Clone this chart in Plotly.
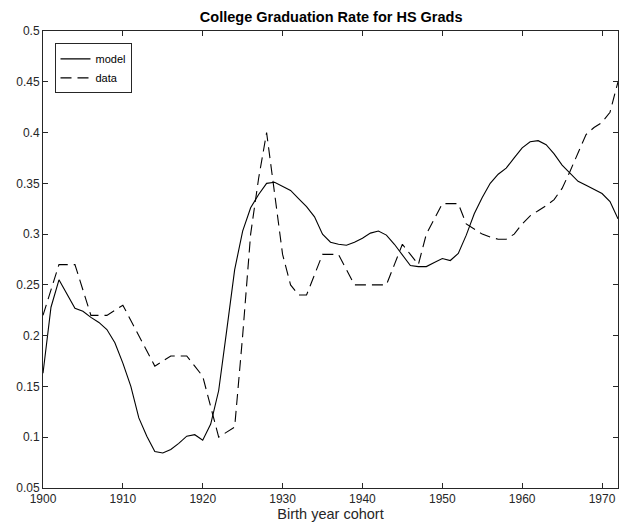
import plotly.graph_objects as go

years = list(range(1900, 1973))

model = [0.163, 0.228, 0.255, 0.241, 0.227, 0.224, 0.218, 0.213, 0.206, 0.193,
         0.173, 0.150, 0.119, 0.101, 0.086, 0.0845, 0.088, 0.094, 0.101, 0.1025,
         0.097, 0.113, 0.146, 0.205, 0.265, 0.303, 0.326, 0.339, 0.350, 0.351,
         0.347, 0.343, 0.335, 0.327, 0.317, 0.300, 0.292, 0.290, 0.289, 0.292,
         0.296, 0.301, 0.303, 0.299, 0.290, 0.279, 0.269, 0.268, 0.268, 0.272,
         0.276, 0.274, 0.281, 0.299, 0.320, 0.336, 0.350, 0.359, 0.365, 0.375,
         0.385, 0.391, 0.392, 0.388, 0.379, 0.368, 0.360, 0.352, 0.348, 0.344,
         0.340, 0.332, 0.315]

data = [0.22, 0.245, 0.27, 0.27, 0.27, 0.245, 0.22, 0.22, 0.22, 0.225,
        0.23, 0.215, 0.20, 0.185, 0.17, 0.175, 0.18, 0.18, 0.18, 0.17,
        0.16, 0.13, 0.10, 0.105, 0.11, 0.20, 0.30, 0.355, 0.40, 0.34,
        0.28, 0.25, 0.24, 0.24, 0.26, 0.28, 0.28, 0.28, 0.265, 0.25,
        0.25, 0.25, 0.25, 0.25, 0.27, 0.29, 0.28, 0.27, 0.30, 0.315,
        0.33, 0.33, 0.33, 0.31, 0.305, 0.30, 0.297, 0.295, 0.295, 0.30,
        0.31, 0.318, 0.323, 0.328, 0.334, 0.345, 0.362, 0.38, 0.398, 0.405,
        0.41, 0.42, 0.45]

x_ticks = [1900, 1910, 1920, 1930, 1940, 1950, 1960, 1970]
x_tick_labels = ["1900", "1910", "1920", "1930", "1940", "1950", "1960", "1970"]
y_ticks = [0.05, 0.1, 0.15, 0.2, 0.25, 0.3, 0.35, 0.4, 0.45, 0.5]
y_tick_labels = ["0.05", "0.1", "0.15", "0.2", "0.25", "0.3", "0.35", "0.4", "0.45", "0.5"]

FONT = "Liberation Sans, Arial, Helvetica, sans-serif"
AX = "#262626"

fig = go.Figure()
fig.add_trace(go.Scatter(x=years, y=model, mode="lines", name="model",
                         line=dict(color="black", width=1.1)))
fig.add_trace(go.Scatter(x=years, y=data, mode="lines", name="data",
                         line=dict(color="black", width=1.1, dash="11px,6px")))

axis_common = dict(showline=True, linecolor=AX, linewidth=1, mirror="ticks",
                   ticks="inside", ticklen=5, tickcolor=AX, tickwidth=1,
                   showgrid=False, zeroline=False,
                   tickfont=dict(family=FONT, size=12, color=AX))

fig.update_layout(
    width=619, height=525,
    margin=dict(l=43, r=1, t=31, b=37, autoexpand=False),
    paper_bgcolor="white", plot_bgcolor="white",
    title=dict(text="<b>College Graduation Rate for HS Grads</b>",
               x=0.535, xanchor="center", y=0.967, yanchor="middle",
               font=dict(family=FONT, size=14.5, color="black")),
    xaxis=dict(range=[1900, 1972], tickvals=x_ticks, ticktext=x_tick_labels,
               title=dict(text="Birth year cohort", standoff=2,
                          font=dict(family=FONT, size=14.5, color=AX)),
               **axis_common),
    yaxis=dict(range=[0.05, 0.5], tickvals=y_ticks, ticktext=y_tick_labels,
               **axis_common),
    showlegend=True,
    legend=dict(x=0.02, y=0.973, xanchor="left", yanchor="top",
                bgcolor="white", bordercolor=AX, borderwidth=1,
                font=dict(family=FONT, size=11, color="black"),
                tracegroupgap=0, itemwidth=30),
)

fig.write_html("out.html",
               config={"displayModeBar": False},
               post_script="document.body.style.margin='0px';document.body.style.padding='0px';")
